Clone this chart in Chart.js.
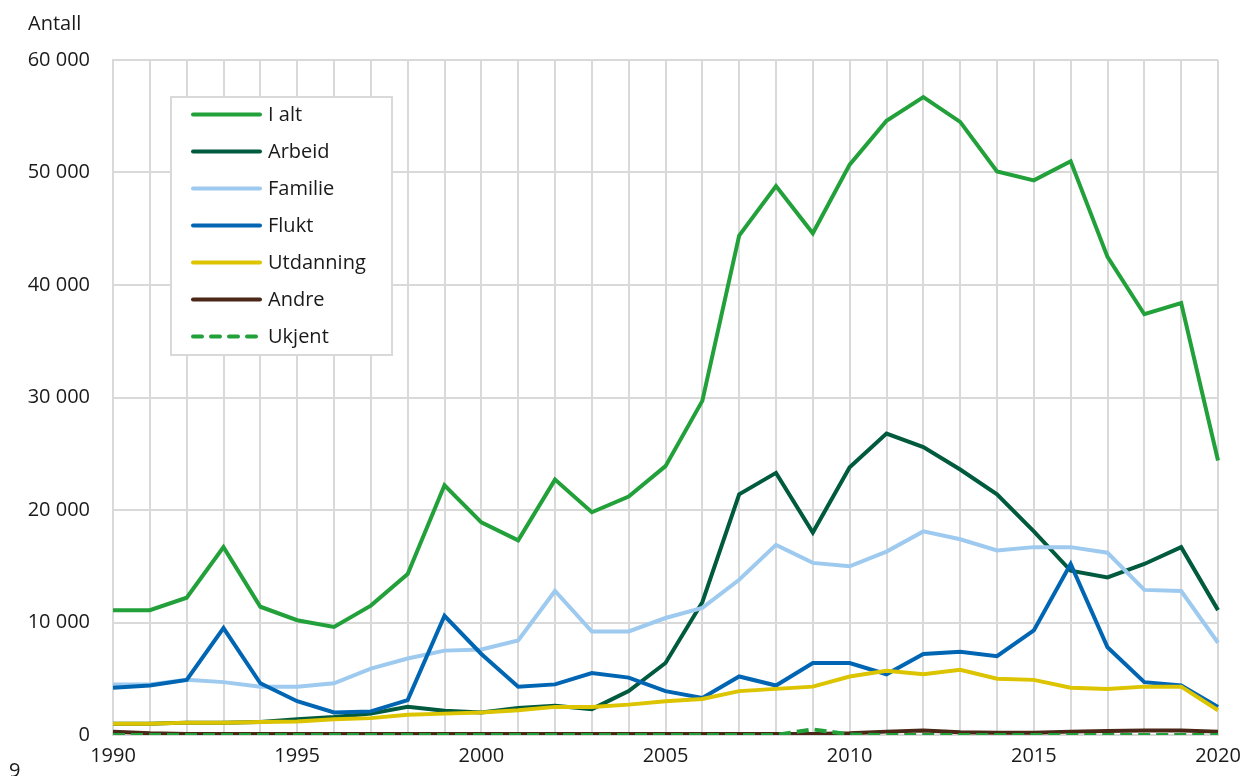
<!DOCTYPE html>
<html>
<head>
<meta charset="utf-8">
<script src="https://cdn.jsdelivr.net/npm/chart.js@4/dist/chart.umd.min.js"></script>
<style>
  html, body { margin: 0; padding: 0; background: #ffffff; }
  #wrap { position: relative; width: 1242px; height: 776px; overflow: hidden; }
  canvas { display: block; }
</style>
</head>
<body>
<div id="wrap"><canvas id="c" width="1242" height="776"></canvas></div>
<script>
const years = [];
for (let y = 1990; y <= 2020; y++) years.push(String(y));

const seriesNames = ['I alt', 'Arbeid', 'Familie', 'Flukt', 'Utdanning', 'Andre', 'Ukjent'];

const iAlt = [11100, 11100, 12200, 16700, 11400, 10200, 9600, 11500, 14300, 22200, 18900, 17300, 22700, 19800, 21200, 23900, 29700, 44400, 48800, 44600, 50700, 54600, 56700, 54500, 50100, 49300, 51000, 42500, 37400, 38400, 24400];
const arbeid = [1000, 1000, 1100, 1100, 1150, 1400, 1600, 1900, 2500, 2150, 2000, 2400, 2600, 2300, 3900, 6400, 11800, 21400, 23300, 18000, 23800, 26800, 25600, 23600, 21400, 18100, 14600, 14000, 15200, 16700, 11100];
const familie = [4500, 4500, 4900, 4700, 4300, 4300, 4600, 5900, 6800, 7500, 7600, 8400, 12800, 9200, 9200, 10400, 11300, 13800, 16900, 15300, 15000, 16300, 18100, 17400, 16400, 16700, 16700, 16200, 12900, 12800, 8200];
const flukt = [4200, 4400, 4900, 9500, 4600, 3000, 2000, 2100, 3100, 10600, 7200, 4300, 4500, 5500, 5100, 3900, 3300, 5200, 4400, 6400, 6400, 5400, 7200, 7400, 7000, 9300, 15200, 7800, 4700, 4400, 2500];
const utdanning = [1000, 1000, 1100, 1100, 1150, 1200, 1400, 1500, 1800, 1900, 2000, 2200, 2500, 2500, 2700, 3000, 3200, 3900, 4100, 4300, 5200, 5700, 5400, 5800, 5000, 4900, 4200, 4100, 4300, 4300, 2200];
const andre = [300, 150, 100, 100, 100, 100, 100, 100, 100, 100, 100, 100, 100, 100, 100, 100, 100, 100, 100, 100, 150, 300, 400, 250, 200, 200, 300, 350, 400, 400, 300];
const ukjent = [0, 0, 0, 0, 0, 0, 0, 0, 0, 0, 0, 0, 0, 0, 0, 0, 0, 0, 0, 500, 50, 0, 0, 0, 0, 0, 0, 0, 0, 0, 0];

const yTicks = [0, 10000, 20000, 30000, 40000, 50000, 60000];
const yTitle = 'Antall';

const colors = ['#22a03a', '#005a3e', '#9dcaee', '#0066b3', '#dcc400', '#4a2716', '#22a03a'];
const FONT = '"Open Sans", "Noto Sans", sans-serif';
const TEXT = '#1a1a1a';
const GRID = '#d9d9d9';

const allData = [iAlt, arbeid, familie, flukt, utdanning, andre, ukjent];

const datasets = allData.map((d, i) => ({
  label: seriesNames[i],
  data: d,
  borderColor: colors[i],
  backgroundColor: colors[i],
  borderWidth: 4,
  pointRadius: 0,
  tension: 0,
  fill: false,
  borderDash: i === 6 ? [12, 6] : [],
  order: 6 - i
}));

function fmt(v) {
  return String(v).replace(/\B(?=(\d{3})+(?!\d))/g, ' ');
}

const extras = {
  id: 'extras',
  afterDraw(chart) {
    const ctx = chart.ctx;
    ctx.save();
    ctx.fillStyle = TEXT;
    ctx.font = '20px ' + FONT;
    ctx.textAlign = 'left';
    ctx.textBaseline = 'alphabetic';
    ctx.fillText(yTitle, 28, 30);
    ctx.fillText('9', 9, 777);

    const bx = 171, by = 97, bw = 221, bh = 258;
    ctx.fillStyle = '#ffffff';
    ctx.fillRect(bx, by, bw, bh);
    ctx.strokeStyle = GRID;
    ctx.lineWidth = 2;
    ctx.strokeRect(bx, by, bw, bh);
    const rowY0 = 114.5, rowStep = 37;
    chart.data.datasets.forEach((ds, i) => {
      const y = rowY0 + i * rowStep;
      ctx.beginPath();
      ctx.strokeStyle = ds.borderColor;
      ctx.lineWidth = 4;
      ctx.lineCap = 'round';
      ctx.setLineDash(ds.borderDash && ds.borderDash.length ? [9, 9] : []);
      ctx.moveTo(193, y);
      ctx.lineTo(260, y);
      ctx.stroke();
      ctx.setLineDash([]);
      ctx.fillStyle = TEXT;
      ctx.font = '20px ' + FONT;
      ctx.textBaseline = 'middle';
      ctx.fillText(ds.label, 268, y + 1);
    });
    ctx.restore();
  }
};

new Chart(document.getElementById('c'), {
  type: 'line',
  data: { labels: years, datasets },
  plugins: [extras],
  options: {
    responsive: false,
    animation: false,
    devicePixelRatio: 1,
    layout: { padding: { top: 60, right: 24, left: 0, bottom: 0 } },
    plugins: { legend: { display: false }, tooltip: { enabled: false } },
    scales: {
      x: {
        type: 'category',
        offset: false,
        grid: { color: GRID, lineWidth: 2, drawTicks: false },
        border: { color: GRID, width: 2 },
        afterFit(s) { s.height = 41; s.paddingLeft = 0; s.paddingRight = 0; },
        ticks: {
          autoSkip: false,
          maxRotation: 0,
          minRotation: 0,
          padding: 9,
          color: TEXT,
          font: { family: FONT, size: 20 },
          callback(v, i) {
            const lab = years[i];
            return Number(lab) % 5 === 0 ? lab : '';
          }
        }
      },
      y: {
        min: 0,
        max: 60000,
        afterBuildTicks(s) { s.ticks = yTicks.map(v => ({ value: v })); },
        grid: { color: GRID, lineWidth: 2, drawTicks: false },
        border: { color: GRID, width: 2 },
        afterFit(s) { s.width = 113; s.paddingTop = 0; s.paddingBottom = 0; },
        ticks: {
          padding: 23,
          color: TEXT,
          font: { family: FONT, size: 20 },
          callback(v) { return fmt(v); }
        }
      }
    }
  }
});
</script>
</body>
</html>
